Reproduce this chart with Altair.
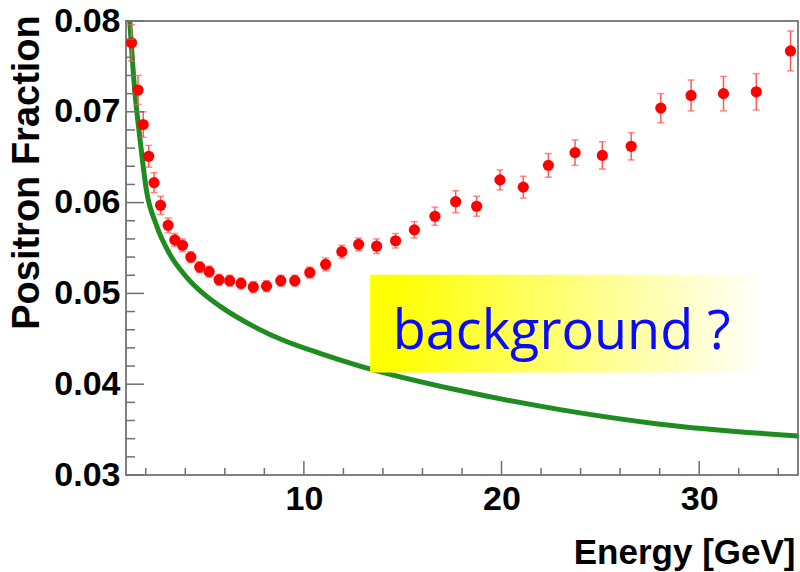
import altair as alt
import pandas as pd

# Measured positron fraction vs. energy
energy = [1.28, 1.61, 1.87, 2.15, 2.42, 2.75, 3.13, 3.47, 3.86, 4.28,
          4.73, 5.21, 5.71, 6.25, 6.82, 7.44, 8.11, 8.83, 9.54, 10.30,
          11.10, 11.92, 12.77, 13.68, 14.64, 15.59, 16.63, 17.68, 18.74, 19.92,
          21.10, 22.37, 23.72, 25.10, 26.56, 28.06, 29.59, 31.23, 32.89, 34.62]
fraction = [0.0776, 0.0724, 0.0686, 0.0651, 0.0622, 0.0597, 0.0575, 0.0559, 0.0553, 0.0540,
            0.0529, 0.0524, 0.0515, 0.0514, 0.0511, 0.0507, 0.0508, 0.0514, 0.0514, 0.0523,
            0.0532, 0.0546, 0.0554, 0.0552, 0.0558, 0.0570, 0.0585, 0.0601, 0.0596, 0.0625,
            0.0617, 0.0641, 0.0655, 0.0652, 0.0662, 0.0704, 0.0718, 0.0720, 0.0722, 0.0767]
error = [0.0020, 0.0016, 0.0014, 0.0012, 0.0011, 0.0010, 0.0008, 0.0007, 0.0007, 0.0006,
         0.0006, 0.0006, 0.0006, 0.0006, 0.0006, 0.0006, 0.0006, 0.0006, 0.0006, 0.0006,
         0.0007, 0.0007, 0.0007, 0.0008, 0.0008, 0.0009, 0.0010, 0.0012, 0.0011, 0.0011,
         0.0012, 0.0013, 0.0014, 0.0015, 0.0015, 0.0016, 0.0017, 0.0019, 0.0020, 0.0022]

# Secondary-production background expectation
bg_energy = [1.19, 1.44, 1.73, 2.03, 2.54, 3.22, 4.06, 4.90, 5.75, 7.43,
             9.12, 10.81, 12.84, 17.90, 22.96, 28.02, 35.0]
bg_fraction = [0.0800, 0.0724, 0.0666, 0.0614, 0.0575, 0.0543, 0.0518, 0.0500, 0.0486, 0.0464,
               0.0447, 0.0434, 0.0420, 0.0393, 0.0372, 0.0356, 0.0343]

# Axis ticks
x_major = [10, 20, 30]
x_minor = [2, 4, 6, 8, 12, 14, 16, 18, 22, 24, 26, 28, 32, 34]
y_major = [0.03, 0.04, 0.05, 0.06, 0.07, 0.08]
y_minor = [0.032, 0.034, 0.036, 0.038, 0.042, 0.044, 0.046, 0.048,
           0.052, 0.054, 0.056, 0.058, 0.062, 0.064, 0.066, 0.068,
           0.072, 0.074, 0.076, 0.078]

W, H = 672, 454
FONT = "Liberation Sans"

points = pd.DataFrame({"energy": energy, "fraction": fraction, "err": error})
curve = pd.DataFrame({"energy": bg_energy, "fraction": bg_fraction})

xs = alt.Scale(domain=[1, 35], nice=False, zero=False)
ys = alt.Scale(domain=[0.03, 0.08], nice=False, zero=False)

x_axis = alt.Axis(
    title="Energy [GeV]", values=x_major, format="d", grid=False, ticks=False,
    domain=False, labelFont=FONT, labelFontWeight="bold", labelFontSize=34,
    labelColor="black", labelPadding=7, titleFont=FONT, titleFontWeight="bold",
    titleFontSize=35, titleColor="black", titleX=669, titleY=88,
    titleAlign="right", titleBaseline="alphabetic", titleAnchor="end",
)
y_axis = alt.Axis(
    title="Positron Fraction", values=y_major, format=".2f", grid=False, ticks=False,
    domain=False, labelFont=FONT, labelFontWeight="bold", labelFontSize=34,
    labelColor="black", labelPadding=6, titleFont=FONT, titleFontWeight="bold",
    titleFontSize=38, titleColor="black", titleAngle=270, titleX=-88, titleY=151,
    titleAlign="center", titleBaseline="alphabetic",
)


def X(field):
    return alt.X(field, type="quantitative", scale=xs, axis=x_axis)


def Y(field):
    return alt.Y(field, type="quantitative", scale=ys, axis=y_axis)


background = alt.Chart(curve).mark_line(
    color="#1e8c1e", strokeWidth=5, interpolate="monotone", clip=True
).encode(x=X("energy"), y=Y("fraction"))

# Highlight box with a yellow-to-white fade
box_fill = alt.LinearGradient(
    gradient="linear", x1=0, x2=1, y1=0, y2=0,
    stops=[alt.GradientStop(color="#ffff00", offset=0),
           alt.GradientStop(color="#ffff00", offset=0.05),
           alt.GradientStop(color="#ffffff", offset=1)],
)
box = alt.Chart(pd.DataFrame({"x": [13.35], "x2": [33.4], "y": [0.04128], "y2": [0.05205]})).mark_rect(
    fill=box_fill
).encode(x=X("x"), x2="x2", y=Y("y"), y2="y2")

label = alt.Chart(pd.DataFrame({"x": [14.5], "y": [0.04389], "t": ["background ?"]})).mark_text(
    font="Open Sans", fontSize=54, color="#0a0aff", align="left", baseline="alphabetic"
).encode(x=X("x"), y=Y("y"), text="t:N")

err_base = alt.Chart(points).transform_calculate(
    lo="datum.fraction - datum.err", hi="datum.fraction + datum.err"
)
err_color = "#ff5a5a"
bars = err_base.mark_rule(color=err_color, strokeWidth=1.5).encode(
    x=X("energy"), y=Y("lo"), y2="hi:Q"
)
caps_lo = err_base.mark_tick(color=err_color, orient="horizontal", size=7, thickness=1.5).encode(
    x=X("energy"), y=Y("lo")
)
caps_hi = err_base.mark_tick(color=err_color, orient="horizontal", size=7, thickness=1.5).encode(
    x=X("energy"), y=Y("hi")
)
dots = alt.Chart(points).mark_circle(color="#ff0000", size=125, opacity=1).encode(
    x=X("energy"), y=Y("fraction")
)

# Inward-pointing ticks along the bottom and left edges
tick_color = "#707070"
xt_major = alt.Chart(pd.DataFrame({"v": x_major})).mark_rule(color=tick_color, strokeWidth=1.5).encode(
    x=X("v"), y=alt.value(H), y2=alt.value(H - 14)
)
xt_minor = alt.Chart(pd.DataFrame({"v": x_minor})).mark_rule(color=tick_color, strokeWidth=1.5).encode(
    x=X("v"), y=alt.value(H), y2=alt.value(H - 7)
)
yt_major = alt.Chart(pd.DataFrame({"v": y_major})).mark_rule(color=tick_color, strokeWidth=1.5).encode(
    y=Y("v"), x=alt.value(0), x2=alt.value(18)
)
yt_minor = alt.Chart(pd.DataFrame({"v": y_minor})).mark_rule(color=tick_color, strokeWidth=1.5).encode(
    y=Y("v"), x=alt.value(0), x2=alt.value(9)
)

chart = alt.layer(
    background, box, label, bars, caps_lo, caps_hi, dots,
    xt_major, xt_minor, yt_major, yt_minor,
).properties(
    width=W, height=H,
    autosize=alt.AutoSizeParams(type="none"),
    padding={"left": 126, "top": 21, "right": 2, "bottom": 97},
    background="white",
).configure_view(
    stroke="#808080", strokeWidth=2
)

chart.save("out.html", embed_options={"renderer": "svg", "actions": False})
